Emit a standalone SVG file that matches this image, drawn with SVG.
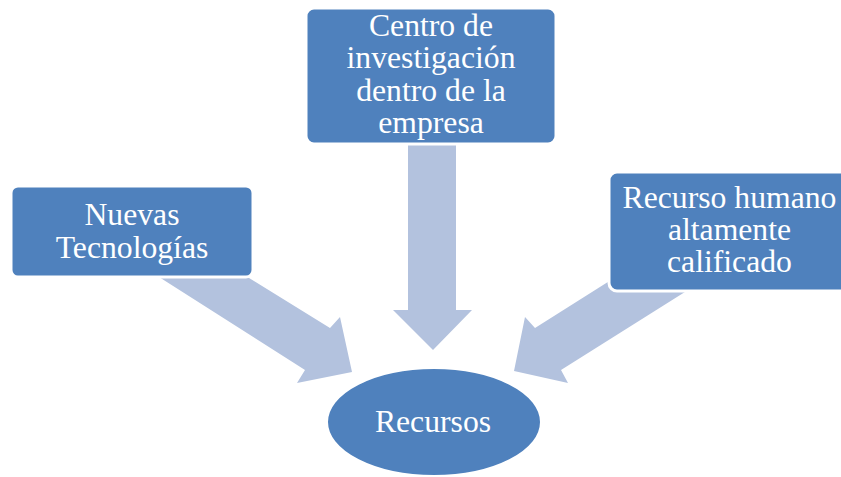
<svg xmlns="http://www.w3.org/2000/svg" width="841" height="477" viewBox="0 0 841 477">
<style>
.box{fill:#4F81BD;stroke:#FFFFFF;stroke-width:3}
.arrow{fill:#B3C2DE}
text{font-family:'Liberation Serif','Times New Roman',Times,'DejaVu Serif',serif;font-size:31.7px;fill:#FFFFFF;text-anchor:middle}
</style>
<rect width="841" height="477" fill="#FFFFFF"/>
<g id="connectors">
<polygon class="arrow" points="408,138 456,138 456,310 472,310 433,350 393,310 408,310"/>
<polygon class="arrow" points="148,270 236,270 330,328 340,317 352,372 297,383 305,370"/>
<polygon class="arrow" points="611,280 704,280 561,370 568,383 514,371 525,317 535,328"/>
</g>
<g id="node-tecnologias" font-family="Liberation Serif, serif">
<rect class="box" x="11" y="186" width="242" height="91" rx="7"/>
<text x="132" y="225">Nuevas</text>
<text x="132" y="258">Tecnologías</text>
</g>
<g id="node-centro" font-family="Liberation Serif, serif">
<rect class="box" x="306" y="8" width="250" height="136" rx="8"/>
<text x="431" y="36">Centro de</text>
<text x="431" y="68">investigación</text>
<text x="431" y="100.5">dentro de la</text>
<text x="431" y="132.5">empresa</text>
</g>
<g id="node-recurso-humano" font-family="Liberation Serif, serif">
<rect class="box" x="609" y="172" width="242" height="119" rx="8"/>
<text x="729.5" y="208">Recurso humano</text>
<text x="729.5" y="240">altamente</text>
<text x="729.5" y="272">calificado</text>
</g>
<g id="node-recursos" font-family="Liberation Serif, serif">
<ellipse cx="434" cy="422" rx="107" ry="54" fill="#4F81BD" stroke="#FFFFFF" stroke-width="2"/>
<text x="433" y="432">Recursos</text>
</g>
</svg>
